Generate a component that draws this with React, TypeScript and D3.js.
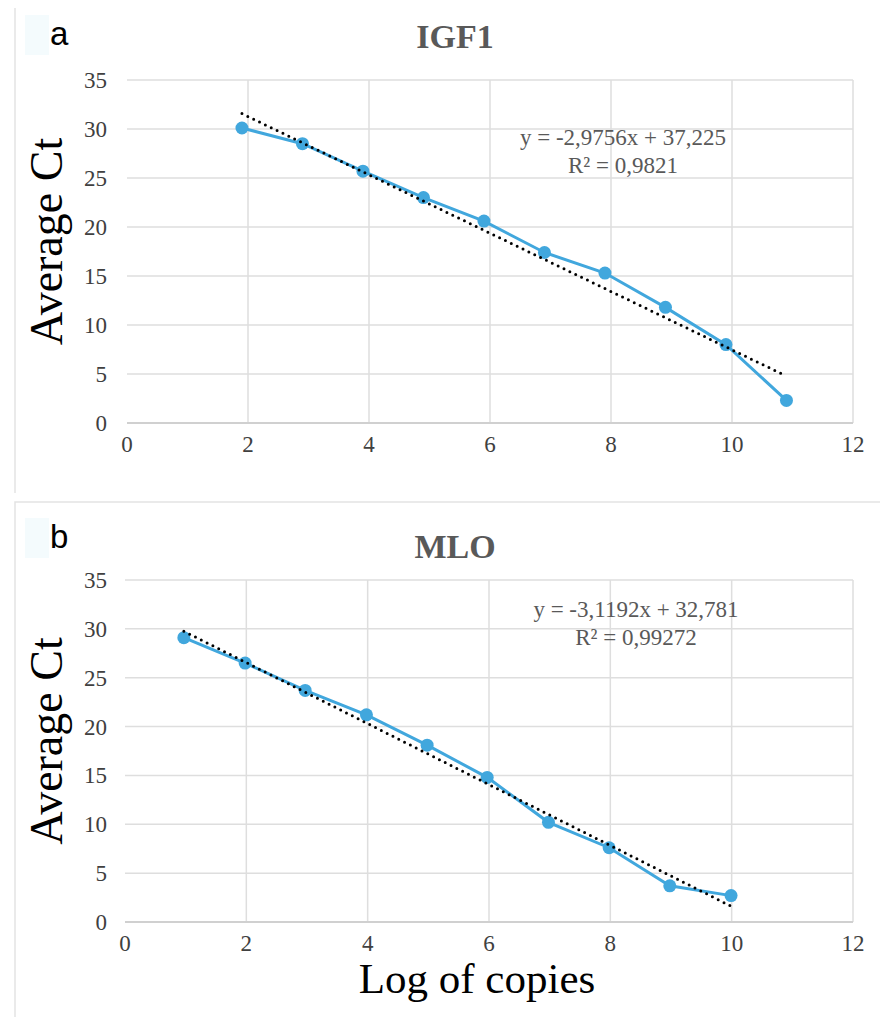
import React, { useEffect, useRef } from "react";
import * as d3 from "d3";

// IGF1 standard curve (panel a)
const igfLog = [1.9, 2.9, 3.9, 4.9, 5.9, 6.9, 7.9, 8.9, 9.9, 10.9];
const igfCt = [30.1, 28.5, 25.7, 23.0, 20.6, 17.4, 15.3, 11.8, 8.0, 2.3];
const igfSlope = -2.9756;
const igfIntercept = 37.225;
const igfEq = "y = -2,9756x + 37,225";
const igfR2 = "R² = 0,9821";

// MLO standard curve (panel b)
const mloLog = [0.97, 1.98, 2.97, 3.98, 4.98, 5.97, 6.98, 7.98, 8.98, 9.99];
const mloCt = [29.1, 26.5, 23.7, 21.2, 18.1, 14.8, 10.2, 7.6, 3.7, 2.7];
const mloSlope = -3.1192;
const mloIntercept = 32.781;
const mloEq = "y = -3,1192x + 32,781";
const mloR2 = "R² = 0,99272";

const xTicks = [0, 2, 4, 6, 8, 10, 12];
const yTicks = [0, 5, 10, 15, 20, 25, 30, 35];

const serif = "'Liberation Serif', 'Times New Roman', serif";
const sans = "'Liberation Sans', Arial, sans-serif";
const blue = "#41a7dd";

function Panel({ xs, ys, slope, intercept, eq, r2, title, letter, left, right, top, bottom, titleY, letterY, eqX, eqY }) {
  const gref = useRef();

  useEffect(() => {
    const g = d3.select(gref.current);
    g.selectAll("*").remove();

    const x = d3.scaleLinear([0, 12], [left, right]);
    const y = d3.scaleLinear([0, 35], [bottom, top]);

    // letter + faint highlight behind it
    g.append("rect")
      .attr("x", 25).attr("y", letterY - 30)
      .attr("width", 24).attr("height", 40)
      .attr("fill", "#f4fbfd");
    g.append("text")
      .attr("x", 50).attr("y", letterY)
      .attr("font-family", sans).attr("font-size", 33)
      .attr("fill", "#000")
      .text(letter);

    // title
    g.append("text")
      .attr("x", 455).attr("y", titleY)
      .attr("text-anchor", "middle")
      .attr("font-family", serif).attr("font-weight", "bold")
      .attr("font-size", 34).attr("fill", "#595959")
      .text(title);

    // grid
    g.append("g").selectAll("line").data(yTicks.filter(d => d > 0)).join("line")
      .attr("x1", left).attr("x2", right)
      .attr("y1", d => y(d)).attr("y2", d => y(d))
      .attr("stroke", "#dedede").attr("stroke-width", 1.5);
    g.append("g").selectAll("line").data(xTicks.filter(d => d > 0)).join("line")
      .attr("x1", d => x(d)).attr("x2", d => x(d))
      .attr("y1", top).attr("y2", bottom)
      .attr("stroke", "#dedede").attr("stroke-width", 1.5);
    g.append("line")
      .attr("x1", left).attr("x2", right)
      .attr("y1", y(0)).attr("y2", y(0))
      .attr("stroke", "#d0d0d0").attr("stroke-width", 2);

    // tick labels
    g.append("g").selectAll("text").data(yTicks).join("text")
      .attr("x", 107).attr("y", d => y(d))
      .attr("dy", "0.35em").attr("text-anchor", "end")
      .attr("font-family", serif).attr("font-size", 23).attr("fill", "#404040")
      .text(d => d);
    g.append("g").selectAll("text").data(xTicks).join("text")
      .attr("x", d => x(d)).attr("y", bottom + 21)
      .attr("dy", "0.35em").attr("text-anchor", "middle")
      .attr("font-family", serif).attr("font-size", 23).attr("fill", "#404040")
      .text(d => d);

    // y axis title
    g.append("text")
      .attr("transform", `translate(62,${(top + bottom) / 2 - 10}) rotate(-90)`)
      .attr("text-anchor", "middle")
      .attr("font-family", serif).attr("font-size", 46).attr("fill", "#000")
      .text("Average Ct");

    // series
    const pts = xs.map((v, i) => [v, ys[i]]);
    const line = d3.line().x(d => x(d[0])).y(d => y(d[1]));
    g.append("path")
      .attr("d", line(pts))
      .attr("fill", "none").attr("stroke", blue).attr("stroke-width", 3);
    g.append("g").selectAll("circle").data(pts).join("circle")
      .attr("cx", d => x(d[0])).attr("cy", d => y(d[1]))
      .attr("r", 6.5).attr("fill", blue);

    // linear trendline
    const ext = d3.extent(xs);
    const trend = ext.map(v => [v, slope * v + intercept]);
    g.append("path")
      .attr("d", line(trend))
      .attr("fill", "none").attr("stroke", "#000")
      .attr("stroke-width", 3).attr("stroke-linecap", "round")
      .attr("stroke-dasharray", "0 6.5");

    // equation
    const eqText = g.append("text")
      .attr("text-anchor", "middle")
      .attr("font-family", serif).attr("font-size", 23).attr("fill", "#595959");
    eqText.append("tspan").attr("x", eqX).attr("y", eqY).text(eq);
    eqText.append("tspan").attr("x", eqX).attr("y", eqY + 28).text(r2);
  }, []);

  return <g ref={gref} />;
}

export default function App() {
  return (
    <svg width={880} height={1017} style={{ position: "absolute", left: 0, top: 0, background: "#fff" }}>
      <rect width={880} height={1017} fill="#fff" />
      {/* panel frames */}
      <line x1={15} x2={15} y1={8} y2={493} stroke="#e3e3e3" strokeWidth={1.5} />
      <path d="M15,1017 L15,502 L880,502" fill="none" stroke="#e3e3e3" strokeWidth={1.5} />

      <Panel xs={igfLog} ys={igfCt} slope={igfSlope} intercept={igfIntercept}
        eq={igfEq} r2={igfR2} title="IGF1" letter="a"
        left={127} right={853} top={80} bottom={423}
        titleY={48} letterY={45} eqX={623} eqY={145} />
      <Panel xs={mloLog} ys={mloCt} slope={mloSlope} intercept={mloIntercept}
        eq={mloEq} r2={mloR2} title="MLO" letter="b"
        left={125} right={853} top={580} bottom={922}
        titleY={558} letterY={548} eqX={636} eqY={617} />

      <text x={477} y={993} textAnchor="middle" fontFamily={serif} fontSize={43} fill="#000">
        Log of copies
      </text>
    </svg>
  );
}
